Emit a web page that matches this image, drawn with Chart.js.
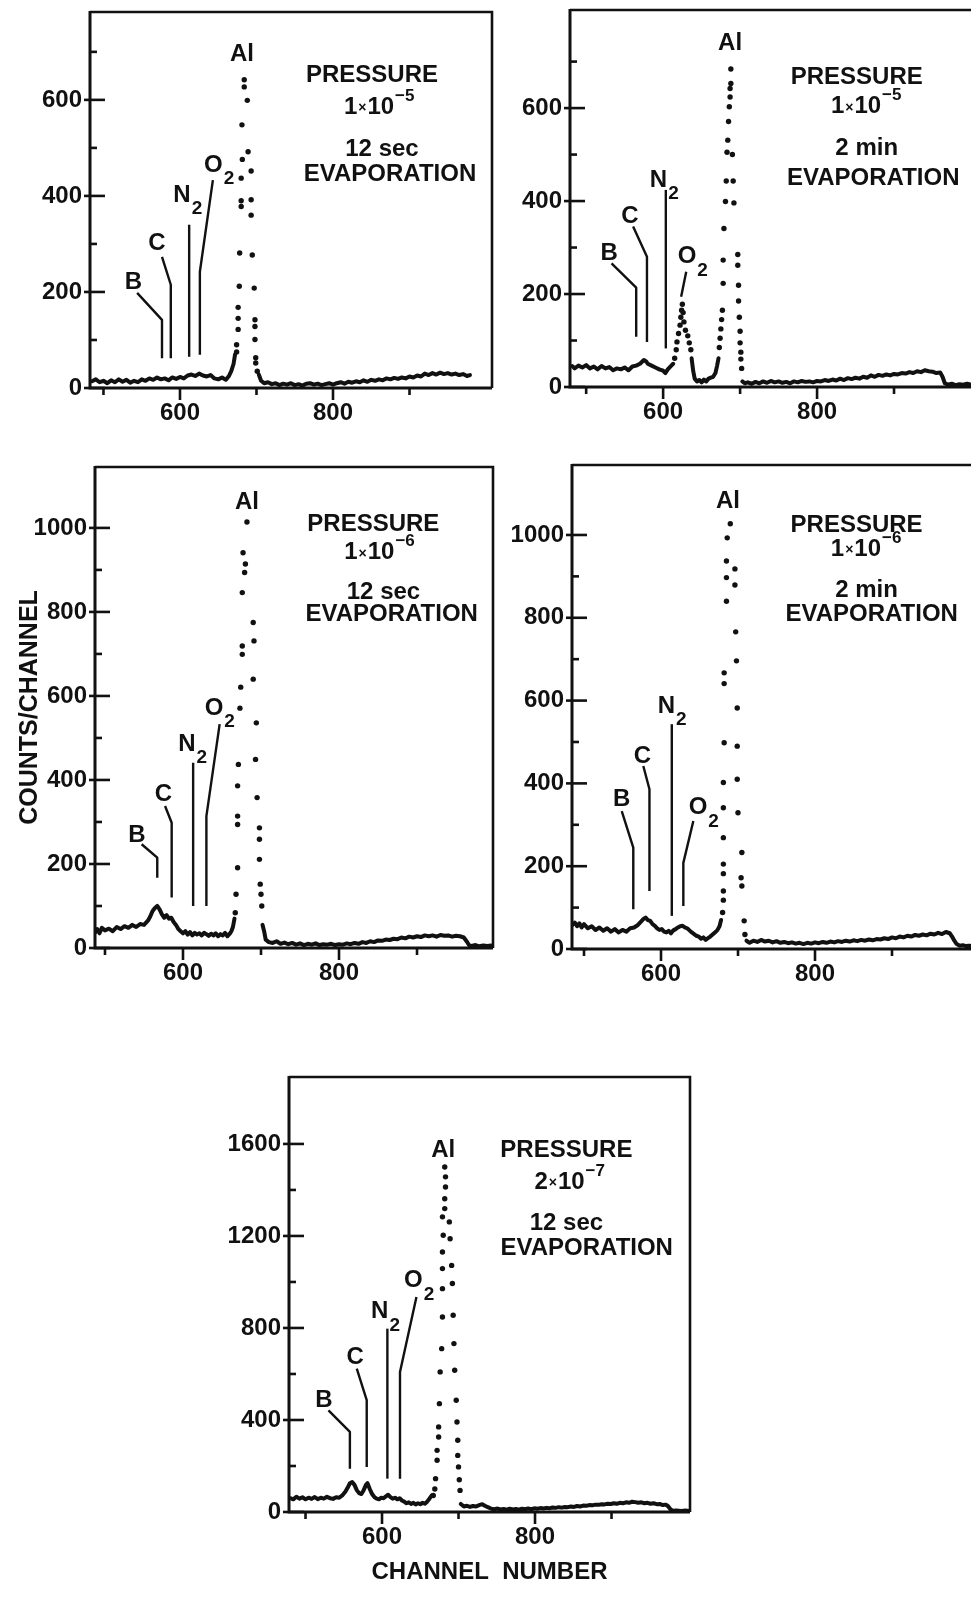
<!DOCTYPE html>
<html>
<head>
<meta charset="utf-8">
<script src="https://cdn.jsdelivr.net/npm/chart.js@4.4.1/dist/chart.umd.min.js"></script>
<style>
  html, body { margin: 0; padding: 0; background: #fff; }
  body { width: 971px; height: 1609px; overflow: hidden; position: relative; }
  canvas { position: absolute; display: block; }
</style>
</head>
<body>
<canvas id="c1"></canvas>
<canvas id="c2"></canvas>
<canvas id="c3"></canvas>
<canvas id="c4"></canvas>
<canvas id="c5"></canvas>
<script>
// ================= DATA (channel numbers / counts per channel) =================

// Panel 1 : pressure 1x10^-5, 12 sec evaporation
const p1BaseCh = [485,490,495,500,505,510,515,520,525,530,535,540,545,550,555,560,565,570,575,580,585,590,595,600,605,610,615,620,625,630,635,640,645,650,655,660,664,667,670,672];
const p1BaseCt = [14,18,12,15,10,16,12,18,13,17,11,15,12,18,15,20,17,22,18,20,16,22,19,23,20,26,28,25,30,26,24,27,20,18,22,17,25,35,50,70];
const p1PeakCh = [674,674,676,676,676,677.5,678,680,680,680,681.5,681,684,684,688,689,693,693,693,694.5,697,698,698,698,699,699,701];
const p1PeakCt = [75,90,122,145,168,212,281,378,390,437,476,548,627,642,599,492,452,392,360,277,208,142,128,101,63,52,35];
const p1TailCh = [703,706,710,715,720,725,730,735,740,745,750,755,760,765,770,775,780,785,790,795,800,805,810,815,820,825,830,835,840,845,850,855,860,865,870,875,880,885,890,895,900,905,910,915,920,925,930,935,940,945,950,955,960,965,970,975,979];
const p1TailCt = [28,15,10,12,8,10,6,9,7,10,6,8,5,9,10,7,9,6,8,10,7,10,12,9,13,11,14,12,16,13,17,15,18,16,20,18,21,19,22,20,24,22,26,24,30,27,31,28,32,29,31,28,30,27,29,25,27];

// Panel 2 : pressure 1x10^-5, 2 min evaporation
const p2BaseCh = [482,485,490,495,500,505,510,515,520,525,530,535,540,545,550,555,560,565,570,575,578,580,585,590,595,600,603,606,610,613];
const p2BaseCt = [45,40,46,42,47,40,44,38,45,40,43,36,40,38,42,36,44,46,50,58,55,50,46,42,38,35,30,38,45,50];
const p2O2Ch = [615,617,618,620,622,623,624,625,626,627,629,632,634,636];
const p2O2Ct = [62,80,97,115,133,150,165,178,160,140,122,110,95,80];
const p2DipCh = [637,639,641,644,647,650,653,656,659,662,665,668,670,672];
const p2DipCt = [62,35,18,12,15,10,16,12,18,20,22,30,45,62];
const p2PeakCh = [673,674,675,676,677,678,678,679,681,682,683,684,685,686,687,687,688,688,690,691,692,697,697,698,698,699,700,700,701,701,702];
const p2PeakCt = [85,105,125,145,165,223,273,341,399,443,505,531,571,603,624,642,653,684,500,443,396,285,262,219,185,150,120,95,75,60,40];
const p2TailCh = [703,706,710,715,720,725,730,735,740,745,750,755,760,765,770,775,780,785,790,795,800,805,810,815,820,825,830,835,840,845,850,855,860,865,870,875,880,885,890,895,900,905,910,915,920,925,930,935,940,945,950,955,960,963,966,970,975,980,985,990,995,1000,1005];
const p2TailCt = [12,8,10,7,11,8,12,9,13,10,12,9,11,8,12,10,13,11,12,10,13,12,15,13,16,14,18,15,19,17,20,18,22,20,25,22,26,24,27,25,28,27,30,29,32,30,34,32,36,34,33,30,31,22,8,5,7,4,6,5,7,5,6];

// Panel 3 : pressure 1x10^-6, 12 sec evaporation
const p3BaseCh = [488,490,493,496,500,505,510,515,520,525,530,535,540,545,550,555,558,561,564,567,570,573,576,579,582,585,588,591,594,597,600,603,606,609,612,615,618,621,624,627,630,633,636,639,642,645,648,651,654,657,660,662,664,666];
const p3BaseCt = [38,45,35,48,42,46,40,50,45,52,48,55,50,57,55,65,75,88,95,100,92,80,72,78,70,72,62,55,45,40,35,40,32,38,30,36,32,35,30,36,33,29,34,30,35,28,33,30,36,28,34,40,50,70];
const p3PeakCh = [667,668,670,670,670,670,671,673,674,676,676,676,679,680,677,682,690,691,690,694,693,695,698,698,698,699,700,701];
const p3PeakCt = [84,128,191,294,314,386,437,571,621,699,719,846,894,914,941,1014,775,731,640,536,449,358,286,259,211,152,128,100];
const p3TailCh = [702,704,706,710,715,720,725,730,735,740,745,750,755,760,765,770,775,780,785,790,795,800,805,810,815,820,825,830,835,840,845,850,855,860,865,870,875,880,885,890,895,900,905,910,915,920,925,930,935,940,945,950,955,960,964,967,970,975,980,985,990,995];
const p3TailCt = [55,40,20,14,12,16,10,13,9,12,8,11,7,10,8,11,7,9,8,10,7,9,8,11,9,12,10,14,12,16,14,18,17,20,19,22,21,25,23,27,25,28,26,30,28,30,27,31,29,30,27,29,28,25,15,6,5,7,4,6,5,6];

// Panel 4 : pressure 1x10^-6, 2 min evaporation
const p4BaseCh = [485,488,491,494,497,500,505,510,515,520,525,530,535,540,545,550,555,560,565,570,574,577,580,583,586,589,592,595,598,601,604,607,610,613,616,619,622,625,628,631,634,637,640,643,646,649,652,655,658,661,664,667,670,673,676,678];
const p4BaseCt = [58,64,55,62,52,60,50,55,46,52,44,50,42,48,40,46,42,50,52,58,66,72,76,70,68,60,56,50,46,48,42,40,44,38,45,48,52,55,56,52,50,45,40,36,32,30,25,28,22,26,30,35,40,45,55,70];
const p4PeakCh = [680,681,681,681,681,681,681,681,682,682,682,685,685,685,686,690,696,696,697,698,699,699,699,700,705,704,705,708,709];
const p4PeakCt = [88,118,140,182,205,269,341,402,498,641,667,840,897,937,993,1027,918,879,766,696,582,490,410,329,233,172,152,68,35];
const p4TailCh = [711,715,720,725,730,735,740,745,750,755,760,765,770,775,780,785,790,795,800,805,810,815,820,825,830,835,840,845,850,855,860,865,870,875,880,885,890,895,900,905,910,915,920,925,930,935,940,945,950,955,960,965,970,975,978,981,984,988,992,996,1000,1005];
const p4TailCt = [20,15,20,17,22,18,20,16,19,15,17,14,16,13,15,12,15,13,16,14,17,15,18,16,19,17,20,18,21,19,22,20,23,21,24,23,26,24,28,26,30,28,32,30,34,32,35,33,37,35,39,36,41,38,30,20,12,8,9,7,8,7];

// Panel 5 : pressure 2x10^-7, 12 sec evaporation
const p5BaseCh = [480,484,488,492,496,500,504,508,512,516,520,524,528,532,536,540,544,548,552,555,558,561,564,567,570,573,576,579,581,584,587,590,593,596,599,602,605,608,611,614,617,620,623,626,629,632,635,638,641,644,647,650,653,656,659,662,665];
const p5BaseCt = [60,55,66,58,64,55,62,57,65,56,62,58,66,60,57,64,62,72,88,105,125,130,118,95,82,78,95,118,125,100,78,65,58,55,62,60,68,75,65,58,62,55,60,50,45,38,42,35,40,33,38,34,40,36,45,58,72];
const p5PeakCh = [682,683,683,682,682,679,680,679,679,679,679,678,676,675,674,674,672,672,670,669,667,688,689,691,692,693,694,695,697,698,699,699,700,701,702];
const p5PeakCt = [1500,1457,1413,1362,1319,1283,1203,1130,1058,971,848,710,609,471,370,326,268,225,145,100,72,1261,1188,1072,993,855,732,616,486,391,312,246,196,140,94];
const p5TailCh = [703,707,711,715,719,723,727,731,735,739,743,747,751,755,759,763,767,771,775,779,783,787,791,795,799,803,807,811,815,819,823,827,831,835,839,843,847,851,855,859,863,867,871,875,879,883,887,891,895,899,903,907,911,915,919,923,927,931,935,939,943,947,951,955,959,963,967,971,974,977,980,985,990,995,1000];
const p5TailCt = [35,24,27,22,26,24,30,34,26,20,14,12,15,11,13,10,14,11,13,10,14,12,15,12,16,14,17,15,18,16,20,18,21,19,22,21,24,22,26,24,28,27,30,29,32,31,34,33,36,35,38,36,40,38,42,40,45,43,40,42,38,40,36,38,34,35,30,32,25,12,5,7,4,6,5];

// Tick values and tick labels
const xTicks = [500, 600, 700, 800, 900];
const xTickLabels = ['', '600', '', '800', ''];
const yTicks700 = [0, 100, 200, 300, 400, 500, 600, 700];
const yLabels700 = ['0', '', '200', '', '400', '', '600', ''];
const yTicks1000 = [0, 100, 200, 300, 400, 500, 600, 700, 800, 900, 1000];
const yLabels1000 = ['0', '', '200', '', '400', '', '600', '', '800', '', '1000'];
const yTicks1600 = [0, 200, 400, 600, 800, 1000, 1200, 1400, 1600];
const yLabels1600 = ['0', '', '400', '', '800', '', '1200', '', '1600'];

// Panel captions
const cap1 = ['PRESSURE', ['1', '10', '\u22125'], '12 sec', 'EVAPORATION'];
const cap2 = ['PRESSURE', ['1', '10', '\u22125'], '2 min', 'EVAPORATION'];
const cap3 = ['PRESSURE', ['1', '10', '\u22126'], '12 sec', 'EVAPORATION'];
const cap4 = ['PRESSURE', ['1', '10', '\u22126'], '2 min', 'EVAPORATION'];
const cap5 = ['PRESSURE', ['2', '10', '\u22127'], '12 sec', 'EVAPORATION'];

// ================= ANNOTATION PLACEMENT (data coordinates) =================
const ann1 = {
  marks: [
    {t: 'B', at: [539, 220], path: [[544, 198], [576.5, 142], [576.5, 62]]},
    {t: 'C', at: [570, 302], path: [[576.5, 273], [588, 215], [588, 62]]},
    {t: 'N', sub: '2', at: [602.6, 402], path: [[612, 340], [612, 65]]},
    {t: 'O', sub: '2', at: [643.6, 464], path: [[643, 433], [626, 242], [626, 69]]},
    {t: 'Al', at: [681, 694], path: []}
  ],
  cap: [[851, 652], [861, 585], [864, 496], [874.5, 444]]
};
const ann2 = {
  marks: [
    {t: 'B', at: [530, 287], path: [[533, 266], [565, 214], [565, 108]]},
    {t: 'C', at: [557, 366], path: [[561, 345], [579, 280], [579, 97]]},
    {t: 'N', sub: '2', at: [594, 445], path: [[603.5, 424], [603.5, 83]]},
    {t: 'O', sub: '2', at: [631, 280], path: [[630, 248], [623.4, 194]]},
    {t: 'Al', at: [687, 739], path: []}
  ],
  cap: [[851.5, 667], [864.5, 603], [864.5, 513], [873, 449]]
};
const ann3 = {
  marks: [
    {t: 'B', at: [541, 267], path: [[547, 247], [567, 215], [567, 167]]},
    {t: 'C', at: [575, 366], path: [[577, 338], [585.5, 298], [585.5, 120]]},
    {t: 'N', sub: '2', at: [605, 485], path: [[613, 441], [613, 100]]},
    {t: 'O', sub: '2', at: [639.7, 571], path: [[647, 533], [630, 314], [630, 100]]},
    {t: 'Al', at: [682, 1060], path: []}
  ],
  cap: [[844, 1009], [852.5, 941], [857, 846], [867.5, 794]]
};
const ann4 = {
  marks: [
    {t: 'B', at: [549, 362], path: [[549, 333], [564, 245], [564, 96]]},
    {t: 'C', at: [576, 466], path: [[577, 442], [585, 386], [585, 140]]},
    {t: 'N', sub: '2', at: [607, 587], path: [[614, 543], [614, 80]]},
    {t: 'O', sub: '2', at: [648, 341], path: [[642, 309], [629, 208], [629, 104]]},
    {t: 'Al', at: [687, 1082], path: []}
  ],
  cap: [[854, 1022], [867, 965], [867, 865], [873.6, 808]]
};
const ann5 = {
  marks: [
    {t: 'B', at: [524, 486], path: [[530, 442], [558, 348], [558, 188]]},
    {t: 'C', at: [565, 674], path: [[567, 623], [580, 486], [580, 196]]},
    {t: 'N', sub: '2', at: [597, 870], path: [[607, 797], [607, 145]]},
    {t: 'O', sub: '2', at: [641, 1007], path: [[645, 935], [623.5, 609], [623.5, 145]]},
    {t: 'Al', at: [680, 1573], path: []}
  ],
  cap: [[841, 1573], [846, 1435], [841, 1253], [867.6, 1145]]
};

// ================= RENDERING =================
const INK = '#111';
const FONT = '"Liberation Sans", Arial, Helvetica, sans-serif';
const YW = 80, PADT = 6, PADR = 6;

function pts(xs, ys) { return xs.map((v, i) => ({x: v, y: ys[i]})); }
function lineDS(xs, ys) {
  return {data: pts(xs, ys), showLine: true, borderColor: INK, borderWidth: 4,
          pointRadius: 0, tension: 0, fill: false, borderJoinStyle: 'round', borderCapStyle: 'round'};
}
function dotDS(xs, ys) {
  return {data: pts(xs, ys), showLine: false, pointRadius: 2.7, pointBackgroundColor: INK,
          pointBorderColor: INK, pointBorderWidth: 0};
}

function drawCaption(ctx, x, y, lines, at) {
  ctx.fillStyle = INK;
  ctx.textBaseline = 'middle';
  lines.forEach((ln, i) => {
    const cx = x.getPixelForValue(at[i][0]);
    const cy = y.getPixelForValue(at[i][1]);
    if (Array.isArray(ln)) {
      const parts = [
        {t: ln[0], s: 24, dy: 0},
        {t: '\u00d7', s: 14, dy: 1},
        {t: ln[1], s: 24, dy: 0},
        {t: ln[2], s: 17, dy: -11}
      ];
      let w = 0;
      parts.forEach(p => { ctx.font = 'bold ' + p.s + 'px ' + FONT; p.w = ctx.measureText(p.t).width; w += p.w + 1; });
      let px = cx - w / 2;
      ctx.textAlign = 'left';
      parts.forEach(p => { ctx.font = 'bold ' + p.s + 'px ' + FONT; ctx.fillText(p.t, px, cy + p.dy); px += p.w + 1; });
    } else {
      ctx.font = 'bold 24px ' + FONT;
      ctx.textAlign = 'center';
      ctx.fillText(ln, cx, cy);
    }
  });
}

const framePlugin = {
  id: 'frame',
  afterDatasetsDraw(chart) {
    const {ctx, chartArea: a, scales: {x, y}} = chart;
    const cfg = chart.options.plugins.frame;
    ctx.save();
    ctx.strokeStyle = INK;
    ctx.lineCap = 'butt';
    // box
    ctx.lineWidth = 2.6;
    ctx.beginPath(); ctx.moveTo(a.left, a.top); ctx.lineTo(a.right, a.top); ctx.lineTo(a.right, a.bottom); ctx.stroke();
    ctx.lineWidth = 3;
    ctx.beginPath(); ctx.moveTo(a.left, a.top - 1); ctx.lineTo(a.left, a.bottom); ctx.lineTo(a.right, a.bottom); ctx.stroke();
    // y ticks (pointing inward)
    ctx.lineWidth = 2.6;
    cfg.yTicks.forEach((v, i) => {
      const py = y.getPixelForValue(v);
      const major = cfg.yLabels[i] !== '';
      ctx.beginPath();
      ctx.moveTo(a.left - (major ? 6 : 0), py);
      ctx.lineTo(a.left + (major ? 15 : 7), py);
      ctx.stroke();
    });
    // x ticks (pointing outward)
    xTicks.forEach((v, i) => {
      const px = x.getPixelForValue(v);
      const major = xTickLabels[i] !== '';
      ctx.beginPath();
      ctx.moveTo(px, a.bottom);
      ctx.lineTo(px, a.bottom + (major ? 12 : 7));
      ctx.stroke();
    });
    // peak markers
    ctx.lineWidth = 2.4;
    ctx.lineJoin = 'round';
    cfg.ann.marks.forEach(m => {
      if (m.path.length) {
        ctx.beginPath();
        m.path.forEach((p, j) => {
          const px = x.getPixelForValue(p[0]), py = y.getPixelForValue(p[1]);
          if (j === 0) ctx.moveTo(px, py); else ctx.lineTo(px, py);
        });
        ctx.stroke();
      }
      const cx = x.getPixelForValue(m.at[0]), cy = y.getPixelForValue(m.at[1]);
      ctx.fillStyle = INK;
      ctx.font = 'bold 24px ' + FONT;
      ctx.textAlign = 'center';
      ctx.textBaseline = 'middle';
      ctx.fillText(m.t, cx, cy);
      if (m.sub) {
        const w = ctx.measureText(m.t).width;
        ctx.font = 'bold 19px ' + FONT;
        ctx.textAlign = 'left';
        ctx.fillText(m.sub, cx + w / 2 + 1, cy + 14);
      }
    });
    drawCaption(ctx, x, y, cfg.caption, cfg.ann.cap);
    ctx.restore();
  }
};

function makePanel(id, box, xr, yr, yTicks, yLabels, datasets, ann, caption, extra) {
  const cv = document.getElementById(id);
  const XH = (extra && extra.xTitle) ? 75 : 50;
  const W = YW + (box.right - box.left) + PADR;
  const H = PADT + (box.bottom - box.top) + XH;
  cv.width = W; cv.height = H;
  cv.style.width = W + 'px'; cv.style.height = H + 'px';
  cv.style.left = (box.left - YW) + 'px';
  cv.style.top = (box.top - PADT) + 'px';
  return new Chart(cv, {
    type: 'scatter',
    data: {datasets},
    options: {
      responsive: false, animation: false, devicePixelRatio: 1,
      layout: {padding: {left: 0, top: PADT, right: PADR, bottom: 0}},
      plugins: {
        legend: {display: false}, tooltip: {enabled: false},
        frame: {yTicks, yLabels, ann, caption}
      },
      scales: {
        x: {
          type: 'linear', position: 'bottom', min: xr[0], max: xr[1],
          grid: {display: false, drawTicks: false}, border: {display: false},
          ticks: {autoSkip: false, maxRotation: 0, padding: 11, color: INK,
                  font: {family: FONT, size: 24, weight: 'bold'}, callback: (v, i) => xTickLabels[i]},
          afterBuildTicks: s => { s.ticks = xTicks.map(v => ({value: v})); },
          afterFit: s => { s.height = XH; s.paddingLeft = 0; s.paddingRight = 0; s.paddingTop = 0; s.paddingBottom = 0; },
          title: extra && extra.xTitle ? {display: true, text: extra.xTitle, color: INK,
                  font: {family: FONT, size: 24, weight: 'bold'}, padding: 0} : {display: false}
        },
        y: {
          type: 'linear', position: 'left', min: yr[0], max: yr[1],
          grid: {display: false, drawTicks: false}, border: {display: false},
          ticks: {autoSkip: false, padding: 8, color: INK,
                  font: {family: FONT, size: 24, weight: 'bold'}, callback: (v, i) => yLabels[i]},
          afterBuildTicks: s => { s.ticks = yTicks.map(v => ({value: v})); },
          afterFit: s => { s.width = YW; s.paddingTop = 0; s.paddingBottom = 0; s.paddingLeft = 0; s.paddingRight = 0; },
          title: extra && extra.yTitle ? {display: true, text: extra.yTitle, color: INK,
                  font: {family: FONT, size: 25, weight: 'bold'}, padding: 0} : {display: false}
        }
      }
    },
    plugins: [framePlugin]
  });
}

makePanel('c1', {left: 90, top: 12, right: 492, bottom: 388}, [482.4, 1007.8], [0, 783],
  yTicks700, yLabels700,
  [lineDS(p1BaseCh, p1BaseCt), dotDS(p1PeakCh, p1PeakCt), lineDS(p1TailCh, p1TailCt)],
  ann1, cap1);

makePanel('c2', {left: 570, top: 10, right: 979, bottom: 387}, [479, 1010.4], [0, 811],
  yTicks700, yLabels700,
  [lineDS(p2BaseCh, p2BaseCt), dotDS(p2O2Ch, p2O2Ct), lineDS(p2DipCh, p2DipCt),
   dotDS(p2PeakCh, p2PeakCt), lineDS(p2TailCh, p2TailCt)],
  ann2, cap2);

makePanel('c3', {left: 95, top: 467, right: 493, bottom: 948}, [487.2, 997.4], [0, 1145],
  yTicks1000, yLabels1000,
  [lineDS(p3BaseCh, p3BaseCt), dotDS(p3PeakCh, p3PeakCt), lineDS(p3TailCh, p3TailCt)],
  ann3, cap3, {yTitle: 'COUNTS/CHANNEL'});

makePanel('c4', {left: 572, top: 465, right: 979, bottom: 949}, [484.4, 1013], [0, 1169],
  yTicks1000, yLabels1000,
  [lineDS(p4BaseCh, p4BaseCt), dotDS(p4PeakCh, p4PeakCt), lineDS(p4TailCh, p4TailCt)],
  ann4, cap4);

makePanel('c5', {left: 289, top: 1077, right: 690, bottom: 1512}, [478.4, 1002.6], [0, 1891],
  yTicks1600, yLabels1600,
  [lineDS(p5BaseCh, p5BaseCt), dotDS(p5PeakCh, p5PeakCt), lineDS(p5TailCh, p5TailCt)],
  ann5, cap5, {xTitle: 'CHANNEL  NUMBER'});
</script>
</body>
</html>
